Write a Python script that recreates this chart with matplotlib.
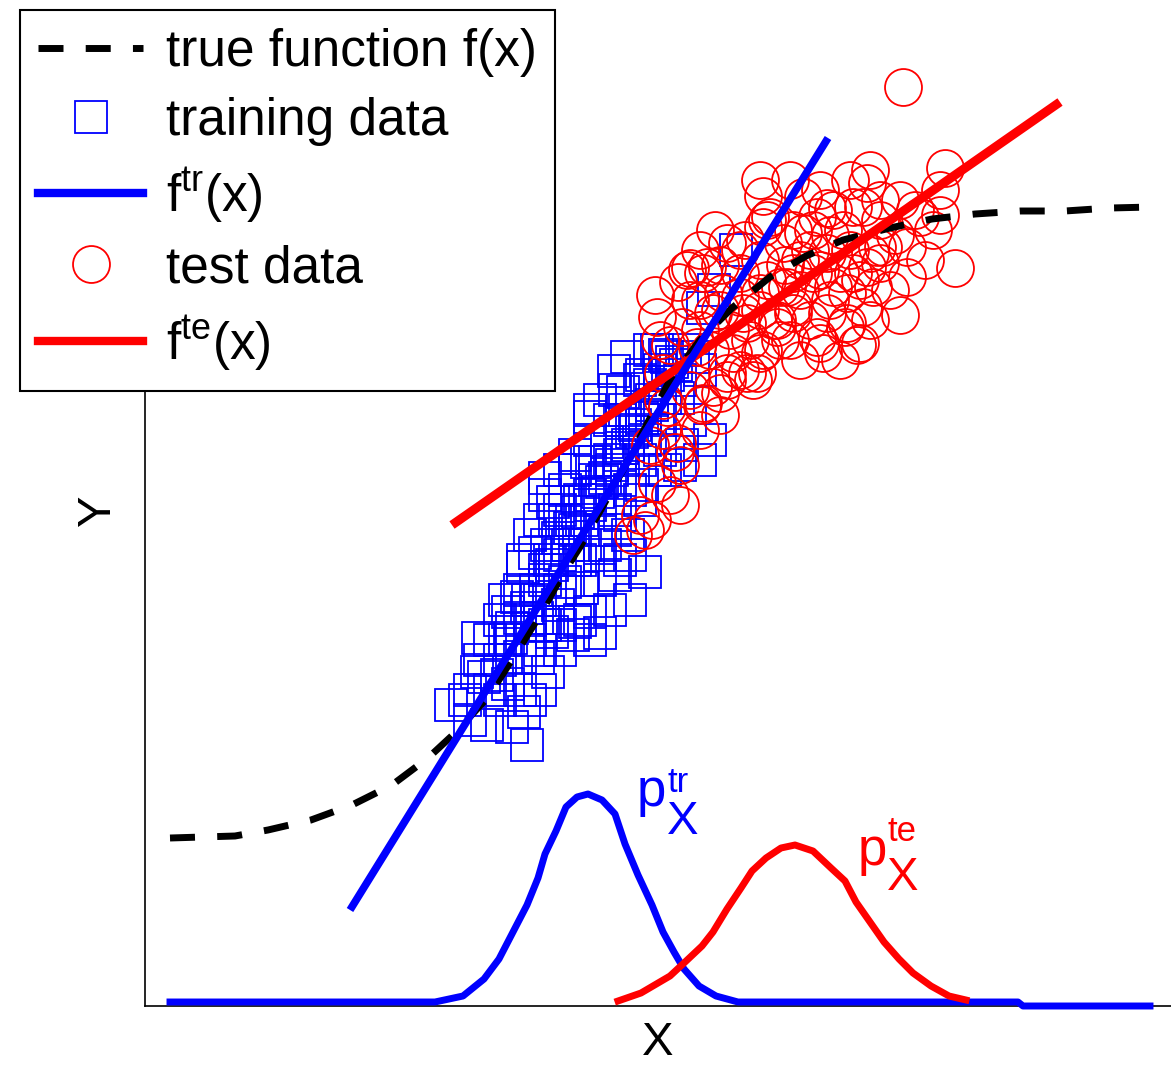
import matplotlib
matplotlib.use('Agg')
import matplotlib.pyplot as plt
from matplotlib.lines import Line2D
import numpy as np

plt.rcParams['font.family'] = ['Liberation Sans', 'DejaVu Sans']
plt.rcParams['mathtext.fontset'] = 'custom'
plt.rcParams['mathtext.rm'] = 'Liberation Sans'
plt.rcParams['mathtext.it'] = 'Liberation Sans'

# true function f(x)
true_x = [0.25, 0.90, 1.23, 1.66, 2.07, 2.47, 2.83, 3.11, 3.43, 3.70, 3.95, 4.19, 4.35,
          4.78, 5.25, 5.55, 5.87, 6.25, 6.61, 6.98, 7.45, 7.87, 8.30, 8.75, 9.20, 9.65, 10.07]
true_y = [1.68, 1.70, 1.76, 1.86, 2.01, 2.21, 2.48, 2.74, 3.09, 3.51, 3.91, 4.34, 4.59,
          5.36, 6.26, 6.66, 6.98, 7.29, 7.50, 7.66, 7.78, 7.87, 7.92, 7.95, 7.95, 7.98, 7.99]

# training data (squares)
train_x = [3.06, 3.42, 3.67, 3.82, 3.79, 3.33, 3.32, 3.39, 3.52, 3.63, 4.03, 3.93, 3.75, 3.66,
           3.63, 3.72, 3.82, 3.92, 4.07, 4.28, 4.55, 4.45, 4.30, 4.70, 5.00, 3.78, 4.00, 4.20,
           4.37, 4.13, 4.00, 4.45, 4.50, 4.08, 3.78, 3.90, 4.02, 4.13, 4.25, 4.33, 4.45, 4.57,
           4.67, 4.77, 4.87, 4.97, 5.07, 4.70, 4.83, 5.65, 5.35, 5.91, 5.69, 5.58, 4.82, 5.12,
           4.69, 5.48, 4.97, 4.78, 4.45, 5.20, 5.27, 5.33, 5.22, 4.62, 4.90, 5.20, 5.37, 4.97,
           4.42, 3.60, 3.67, 3.75, 3.83, 3.91, 4.00, 4.07, 4.15, 4.23, 4.30, 4.37, 4.45, 4.53,
           4.60, 4.67, 4.75, 4.83, 4.91, 5.00, 5.07, 5.15, 5.23, 5.31, 5.40, 3.95, 4.15, 4.35,
           4.55, 4.70, 4.85, 4.20, 4.35, 4.50, 4.65, 4.75, 5.00, 5.15, 4.55, 4.95, 3.85, 3.55,
           3.45, 4.00, 4.15, 4.40, 4.55, 4.10, 4.95, 5.05,
           4.15, 4.30, 4.20, 3.95, 3.85, 4.05, 4.30, 4.55, 4.75, 4.85, 4.65, 4.45, 4.15, 3.95,
           3.75, 3.55, 3.25, 3.35, 3.55, 3.85, 4.45, 4.65, 4.80, 5.05, 5.15, 5.35, 5.55, 4.55,
           4.75, 4.95, 4.15, 4.00, 5.15, 5.20, 5.55, 5.45, 5.10, 4.75, 4.30, 4.60, 4.85, 4.70,
           3.75, 3.60, 3.45, 3.20, 3.25, 3.85, 3.95, 4.35]
train_y = [3.01, 2.81, 2.79, 2.61, 2.94, 3.68, 3.34, 3.29, 3.31, 3.22, 3.34, 3.48, 3.49, 3.68,
           3.94, 4.09, 3.98, 3.88, 3.74, 3.71, 3.73, 3.94, 3.84, 4.31, 4.34, 4.39, 4.36, 4.24,
           4.18, 4.01, 5.28, 5.89, 5.44, 5.04, 4.46, 4.53, 4.61, 4.68, 4.78, 4.94, 5.11, 5.24,
           5.41, 5.58, 5.74, 5.88, 6.01, 6.16, 4.71, 5.66, 5.41, 7.56, 7.16, 6.98, 6.49, 6.56,
           6.35, 6.49, 6.31, 6.14, 5.96, 6.51, 6.44, 6.08, 6.49, 5.64, 5.81, 6.08, 5.61, 5.21,
           5.44, 3.66, 3.78, 3.88, 4.06, 4.16, 4.26, 4.41, 4.51, 4.61, 4.76, 4.86, 5.01, 5.14,
           5.28, 5.36, 5.51, 5.61, 5.76, 5.91, 6.06, 6.18, 6.31, 6.41, 6.56, 4.06, 4.16, 4.46,
           4.76, 4.96, 5.16, 4.86, 5.06, 5.26, 5.46, 5.86, 5.66, 5.86, 6.06, 6.26, 3.66, 3.46,
           3.16, 3.81, 3.81, 4.61, 4.51, 4.86, 5.46, 6.56,
           5.36, 5.51, 5.16, 4.86, 4.71, 4.46, 4.46, 4.26, 4.46, 4.06, 3.96, 3.66, 3.56, 3.16,
           3.16, 3.06, 3.16, 3.46, 3.86, 3.86, 5.66, 5.86, 5.96, 6.21, 6.36, 6.26, 6.36, 5.06,
           4.91, 5.06, 4.96, 5.11, 5.56, 5.36, 5.46, 5.86, 5.36, 5.26, 5.36, 4.61, 4.51, 4.76,
           4.16, 4.06, 3.66, 3.06, 2.86, 3.06, 3.56, 3.86]

# test data (circles)
test_x = [7.58, 7.25, 7.22, 8.00, 6.18, 6.58, 6.88, 7.18, 5.82, 6.22, 7.70, 7.75, 7.88, 8.10,
          7.62, 7.62, 7.32, 5.45, 5.33, 5.58, 5.12, 5.37, 5.52, 5.18, 5.22, 5.32, 5.58, 5.82,
          5.95, 6.12, 5.75, 6.15, 6.32, 6.48, 6.75, 7.12, 7.00, 7.18, 7.02, 7.28, 7.22, 7.38,
          6.68, 6.55, 6.38, 6.58, 6.72, 6.42, 6.15, 5.95, 5.78, 5.68, 5.98, 6.82, 6.95, 6.82,
          7.08, 6.82, 6.25, 6.48, 6.68, 6.98, 7.25, 7.35, 7.08, 6.88, 6.75, 6.48, 6.35, 6.48,
          7.02, 6.78, 7.15, 6.18, 6.32, 6.72, 6.18, 5.62, 5.42, 5.55, 5.75, 5.95, 6.22, 6.02,
          6.28, 5.88, 5.82, 6.02, 5.68, 6.08, 5.18, 5.57, 5.17, 5.30, 5.35, 5.12, 5.07, 4.88,
          5.00,
          5.10, 5.55, 5.70, 6.00, 6.15, 6.40, 6.65, 6.85, 7.05, 7.35, 7.50, 7.55, 7.95, 7.80,
          7.45, 7.55, 7.25, 6.95, 6.55, 6.35, 6.05, 5.85, 5.65, 5.45, 5.25, 5.15, 5.55, 6.15,
          6.55, 6.85, 7.15, 6.65, 6.45, 5.95, 5.75, 7.35, 7.05, 6.75, 6.45, 6.15, 7.95, 5.55,
          5.45, 5.75, 5.35, 5.25, 4.95, 5.05]
test_y = [9.19, 8.36, 8.23, 8.38, 8.10, 8.09, 7.96, 7.99, 7.63, 7.86, 7.96, 7.89, 7.76, 7.38,
          7.59, 7.29, 7.59, 7.38, 7.24, 7.33, 6.89, 6.79, 6.59, 6.33, 5.99, 5.63, 6.03, 6.26,
          6.36, 6.33, 6.13, 6.53, 6.86, 6.93, 6.63, 6.61, 6.79, 6.99, 7.13, 7.19, 7.39, 7.59,
          7.33, 7.46, 7.63, 7.73, 7.89, 7.19, 7.13, 7.33, 7.13, 6.93, 6.93, 6.93, 7.33, 7.53,
          7.99, 7.98, 7.89, 7.76, 7.76, 7.76, 7.53, 7.43, 7.33, 7.19, 7.36, 7.33, 7.19, 6.99,
          6.83, 6.53, 6.63, 6.56, 6.79, 6.69, 7.79, 7.39, 7.36, 6.76, 6.96, 7.09, 7.26, 6.83,
          6.86, 6.53, 6.33, 6.33, 6.19, 6.26, 6.06, 6.01, 5.76, 5.54, 5.41, 5.23, 4.86, 4.71,
          4.76,
          7.11, 7.56, 7.76, 7.66, 7.46, 7.41, 7.56, 7.71, 7.56, 7.86, 7.71, 8.06, 7.91, 7.46,
          7.16, 6.91, 6.86, 6.46, 6.46, 6.66, 6.66, 6.76, 6.56, 7.06, 6.61, 6.66, 7.06, 6.96,
          7.16, 7.06, 7.26, 6.86, 6.66, 7.56, 7.41, 8.06, 8.26, 8.16, 8.26, 8.26, 8.16, 5.76,
          6.16, 5.91, 5.01, 5.11, 4.91, 5.61]

# fitted lines (end points)
ftr_x = [2.05, 6.83]
ftr_y = [0.96, 8.68]
fte_x = [3.07, 9.15]
fte_y = [4.81, 9.04]

# input densities
ptr_x = [0.25, 2.90, 3.18, 3.39, 3.54, 3.68, 3.82, 3.93, 4.00, 4.11, 4.21, 4.32, 4.43, 4.57,
         4.70, 4.80, 4.93, 5.07, 5.18, 5.29, 5.39, 5.54, 5.71, 5.93, 8.73, 8.78, 10.05]
ptr_y = [0.04, 0.04, 0.10, 0.27, 0.47, 0.74, 1.01, 1.28, 1.52, 1.75, 1.99, 2.09, 2.12, 2.06,
         1.92, 1.62, 1.31, 1.01, 0.74, 0.54, 0.37, 0.20, 0.10, 0.04, 0.04, 0.00, 0.00]
pte_x = [4.73, 4.96, 5.25, 5.39, 5.57, 5.68, 5.82, 5.96, 6.07, 6.21, 6.36, 6.50, 6.68, 6.86,
         7.00, 7.11, 7.25, 7.39, 7.54, 7.68, 7.86, 8.04, 8.21]
pte_y = [0.05, 0.13, 0.30, 0.43, 0.60, 0.74, 0.97, 1.18, 1.35, 1.48, 1.58, 1.61, 1.55, 1.38,
         1.25, 1.04, 0.84, 0.64, 0.47, 0.33, 0.20, 0.10, 0.06]

BLUE = (0, 0, 1)
RED = (1, 0, 0)
sq_ms = 22.5
ci_ms = 26.6
dash = (0, (3.6, 3.2))

fig = plt.figure(figsize=(11.71, 10.68), dpi=100)
ax = fig.add_axes([145 / 1171, 62 / 1068, 1026 / 1171, 991 / 1068])

ax.plot(train_x, train_y, ls='none', marker='s', ms=sq_ms, mfc='none', mec=BLUE, mew=1.3, zorder=2)
ax.plot(test_x, test_y, ls='none', marker='o', ms=ci_ms, mfc='none', mec=RED, mew=1.3, zorder=3)
ax.plot(true_x, true_y, color='black', lw=5, ls=dash, zorder=4)
ax.plot(fte_x, fte_y, color=RED, lw=6.5, solid_capstyle='butt', zorder=5)
ax.plot(ftr_x, ftr_y, color=BLUE, lw=5.5, solid_capstyle='butt', zorder=6)
ax.plot(ptr_x, ptr_y, color=BLUE, lw=5, zorder=6, clip_on=False)
ax.plot(pte_x, pte_y, color=RED, lw=5, zorder=6)

# density labels
ax.text(4.92, 2.00, 'p', color=BLUE, fontsize=38, ha='left', va='baseline')
ax.text(5.22, 1.72, 'X', color=BLUE, fontsize=34, ha='left', va='baseline')
ax.text(5.22, 2.14, 'tr', color=BLUE, fontsize=25, ha='left', va='baseline')
ax.text(7.13, 1.41, 'p', color=RED, fontsize=38, ha='left', va='baseline')
ax.text(7.42, 1.16, 'X', color=RED, fontsize=34, ha='left', va='baseline')
ax.text(7.42, 1.65, 'te', color=RED, fontsize=25, ha='left', va='baseline')

ax.set_xlim(0, 10.26)
ax.set_ylim(0, 9.91)
ax.set_xticks([])
ax.set_yticks([])
for side in ['top', 'right']:
    ax.spines[side].set_visible(False)
for side in ['left', 'bottom']:
    ax.spines[side].set_linewidth(1.2)
ax.set_xlabel('X', fontsize=34, labelpad=11)
ax.set_ylabel('Y', fontsize=34, labelpad=18)

handles = [
    Line2D([], [], color='black', lw=5, ls=dash),
    Line2D([], [], ls='none', marker='s', ms=sq_ms, mfc='none', mec=BLUE, mew=1.3),
    Line2D([], [], color=BLUE, lw=6),
    Line2D([], [], ls='none', marker='o', ms=ci_ms, mfc='none', mec=RED, mew=1.3),
    Line2D([], [], color=RED, lw=6),
]
labels = ['true function f(x)', 'training data', r'f$^{\mathregular{tr}}$(x)',
          'test data', r'f$^{\mathregular{te}}$(x)']
leg = fig.legend(handles, labels, loc='upper left', bbox_to_anchor=(20 / 1171, 1 - 10 / 1068),
                 fontsize=37, frameon=True, fancybox=False, framealpha=1, edgecolor='black',
                 borderpad=0.35, handlelength=2.05, handletextpad=0.45, labelspacing=0.38,
                 borderaxespad=0)
leg.get_frame().set_linewidth(1.5)
leg.set_zorder(10)

fig.savefig('out.png', dpi=100)
